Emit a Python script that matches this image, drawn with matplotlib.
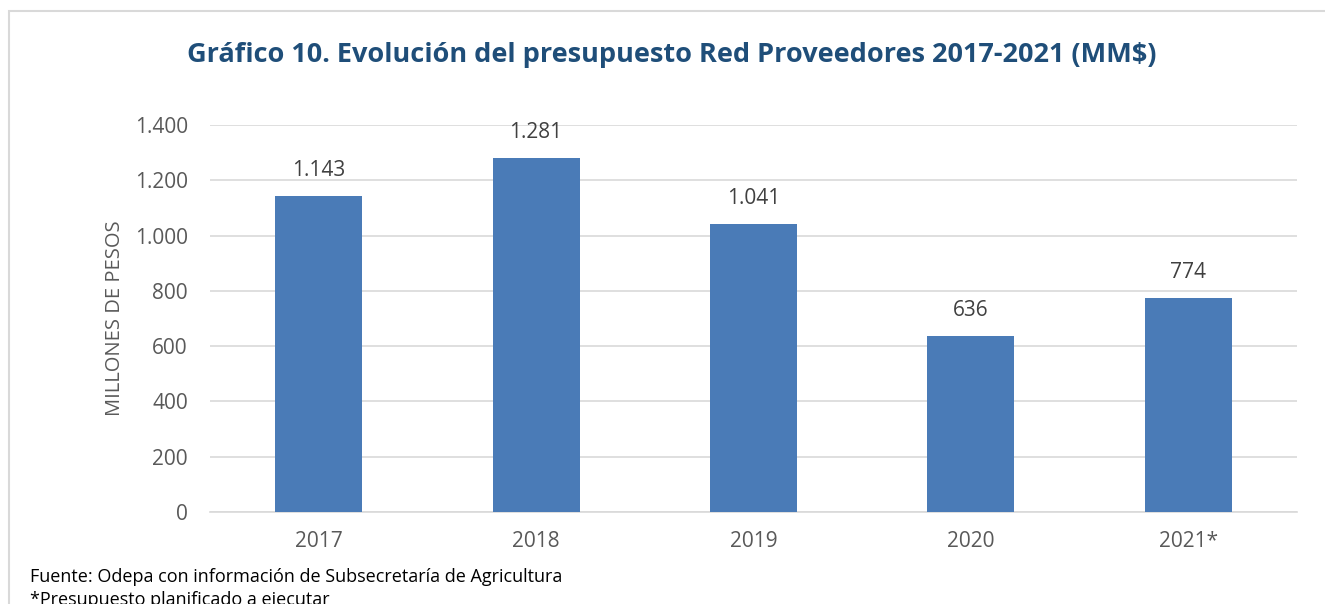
import matplotlib.pyplot as plt
from matplotlib.patches import Rectangle
from matplotlib.ticker import FuncFormatter

# datos del gráfico
years = ["2017", "2018", "2019", "2020", "2021*"]
budget = [1143, 1281, 1041, 636, 774]
yticks = [0, 200, 400, 600, 800, 1000, 1200, 1400]

plt.rcParams['font.family'] = ['Open Sans', 'DejaVu Sans']

def miles(v):
    return f"{int(v):,}".replace(",", ".")

fig = plt.figure(figsize=(13.25, 6.04), dpi=100)

# marco del gráfico
fig.patches.append(Rectangle((9 / 1325, -0.1), 1.2, 1 - 11 / 604 + 0.1,
                             transform=fig.transFigure, fill=False,
                             edgecolor="#D9D9D9", linewidth=1.5))

ax = fig.add_axes([210 / 1325, 1 - 512 / 604, 1087 / 1325, 387 / 604])
x = range(len(years))
bars = ax.bar(x, budget, width=0.4, color="#4A7BB7", zorder=3)

for xi, v in zip(x, budget):
    ax.text(xi, v + 55, miles(v), ha="center", va="bottom", fontsize=15, color="#404040")

ax.set_xlim(-0.5, len(years) - 0.5)
ax.set_ylim(0, 1400)
ax.set_yticks(yticks)
ax.yaxis.set_major_formatter(FuncFormatter(lambda v, p: miles(v)))
ax.set_xticks(list(x))
ax.set_xticklabels(years)
ax.tick_params(axis="both", length=0, labelsize=15, labelcolor="#595959")
ax.tick_params(axis="y", pad=16)
ax.tick_params(axis="x", pad=14)
ax.grid(axis="y", color="#D9D9D9", linewidth=1.2, zorder=0)
for s in ["top", "right", "left"]:
    ax.spines[s].set_visible(False)
ax.spines["bottom"].set_color("#D9D9D9")
ax.spines["bottom"].set_linewidth(1.2)

ax.set_ylabel("MILLONES DE PESOS", fontsize=14.5, color="#595959", labelpad=7)

fig.text(672 / 1325, 1 - 55 / 604, "Gráfico 10. Evolución del presupuesto Red Proveedores 2017-2021 (MM$)",
         ha="center", va="center", fontsize=19.5, fontweight="bold", color="#1F4E79")

fig.text(30 / 1325, 1 - 577 / 604, "Fuente: Odepa con información de Subsecretaría de Agricultura",
         ha="left", va="center", fontsize=13, color="black")
fig.text(30 / 1325, 1 - 600 / 604, "*Presupuesto planificado a ejecutar",
         ha="left", va="center", fontsize=13, color="black")

fig.savefig("out.png", dpi=100)
